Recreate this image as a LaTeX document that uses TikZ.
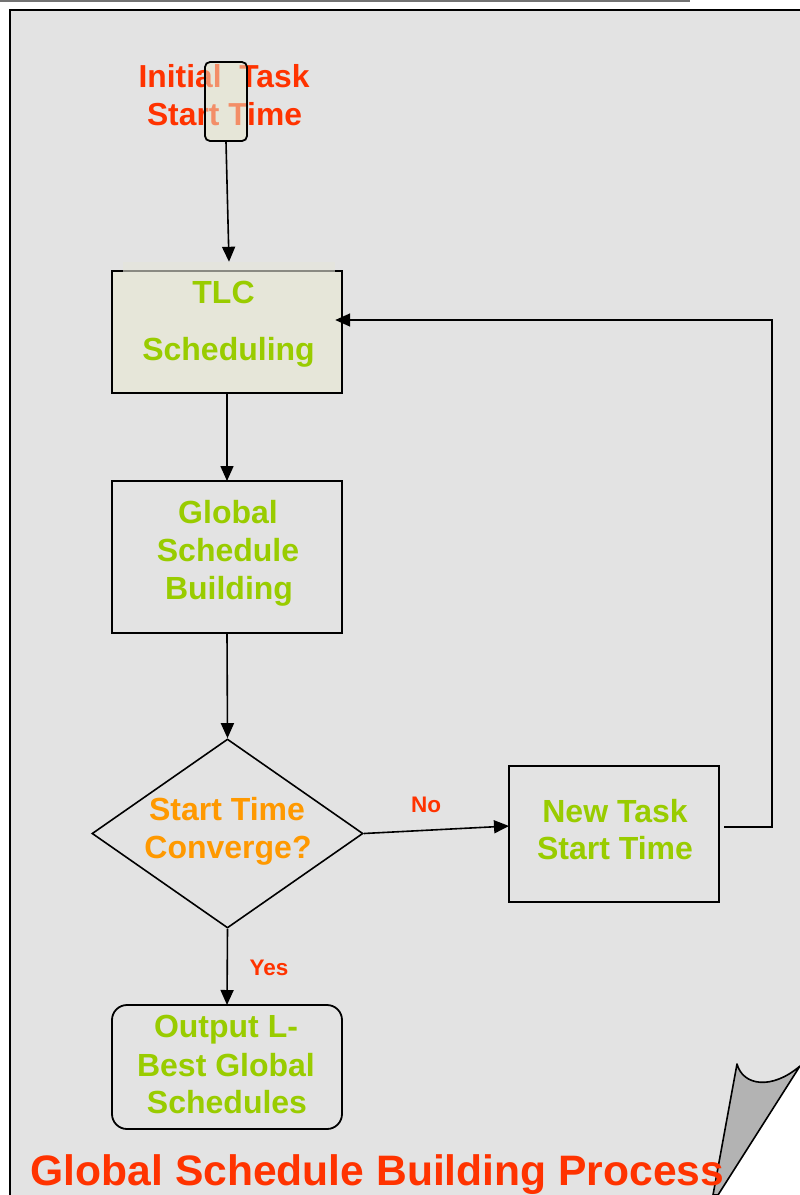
\documentclass[tikz,border=0pt]{standalone}
\usepackage{fontspec}
\setmainfont{Liberation Sans}
\usetikzlibrary{shapes.geometric,arrows.meta}
\definecolor{pagegray}{HTML}{E3E3E3}
\definecolor{beige}{HTML}{E6E6D9}
\definecolor{beigeb}{HTML}{E9E9CF}
\definecolor{redorange}{HTML}{FF3300}
\definecolor{lgreen}{HTML}{99CC00}
\definecolor{orng}{HTML}{FF9900}
\definecolor{foldgray}{HTML}{B3B3B3}
\newcommand\myfs[1]{\fontsize{#1}{#1}\selectfont\bfseries}
\begin{document}
\begin{tikzpicture}[x=1pt,y=-1pt,
  box/.style={draw=black,line width=1.8pt,inner sep=0pt,outer sep=0pt},
  txt/.style={anchor=base,inner sep=0pt,font=\myfs{32},text=lgreen},
  lbl/.style={anchor=base,inner sep=0pt,font=\myfs{22.5},text=redorange},
  arr/.style={line width=1.6pt,-{Triangle[length=15pt,width=13pt]}}]
\useasboundingbox (0,0) rectangle (800,1195);
\clip (0,0) rectangle (800,1195);
\fill[white] (0,0) rectangle (800,1195);
% top shadow line
\draw[black!55,line width=2.5pt] (0,1.2) -- (690,1.2);
% page
\fill[pagegray] (10,10) rectangle (830,1230);
\draw[line width=2.2pt] (10,1230) -- (10,10) -- (830,10);
% page curl
\fill[white] (800,1066) -- (718,1195) -- (805,1200) -- (805,1060) -- cycle;
\filldraw[fill=foldgray,line width=1.6pt,line join=round]
  (737,1064) .. controls (743,1086) and (772,1090) .. (800,1066)
  -- (718,1195) -- (713,1195) -- cycle;

% Initial task start time
\node[txt,text=redorange,font=\myfs{31.8}] (it1) at (224,87) {Initial\ \ Task};
\node[txt,text=redorange,font=\myfs{31.8}] (it2) at (224.5,125) {Start Time};
\node[draw=black,line width=1.8pt,fill=beigeb,fill opacity=0.5,draw opacity=1,
  rounded corners=5pt,minimum width=42pt,minimum height=79pt,inner sep=0pt]
  (init) at (226,101.5) {};

% TLC scheduling
\node[box,fill=beige,minimum width=230pt,minimum height=122pt] (tlc) at (227,332) {};
\node[fill=beige,fill opacity=0.6,minimum width=212pt,minimum height=116pt,inner sep=0pt]
  (tlcover) at (229,320) {};
\node[txt] (tlc1) at (223.5,303) {TLC};
\node[txt] (tlc2) at (228.5,360) {Scheduling};

% Global schedule building
\node[box,minimum width=230pt,minimum height=152pt] (glob) at (227,557) {};
\node[txt] (g1) at (228,523) {Global};
\node[txt] (g2) at (228,561) {Schedule};
\node[txt] (g3) at (229,599) {Building};

% decision
\node[diamond,draw=black,line width=1.6pt,inner sep=0pt,aspect=1.434,
  minimum width=271pt,minimum height=189pt] (dec) at (227.5,833.5) {};
\node[txt,text=orng] (d1) at (227,820) {Start Time};
\node[txt,text=orng] (d2) at (228,858) {Converge?};

% new task start time
\node[box,minimum width=210pt,minimum height=136pt] (nt) at (614,834) {};
\node[txt] (n1) at (615,822) {New Task};
\node[txt] (n2) at (615,859) {Start Time};

% output
\node[box,rounded corners=15pt,minimum width=230pt,minimum height=124pt] (out) at (227,1067) {};
\node[txt] (o1) at (226,1037) {Output L-};
\node[txt] (o2) at (226,1076) {Best Global};
\node[txt] (o3) at (227,1113) {Schedules};

% labels
\node[lbl] (no) at (426,812) {No};
\node[lbl] (yes) at (269,975) {Yes};

% connectors
\coordinate (fb) at (772,600);
\draw[arr] (init.south) -- (tlcover.north);
\draw[arr] (tlc.south) -- (glob.north);
\draw[arr] (glob.south) -- (dec.north);
\draw[arr] (dec.east) -- ([yshift=8pt]nt.west);
\draw[arr] ([xshift=5pt,yshift=7pt]nt.east) -| (fb) |- (tlcover.east);
\draw[arr] (dec.south) -- (out.north);

% title
\node[anchor=base,inner sep=0pt,font=\myfs{42.6},text=redorange] (title) at (377.5,1185)
  {Global Schedule Building Process};
\end{tikzpicture}
\end{document}
